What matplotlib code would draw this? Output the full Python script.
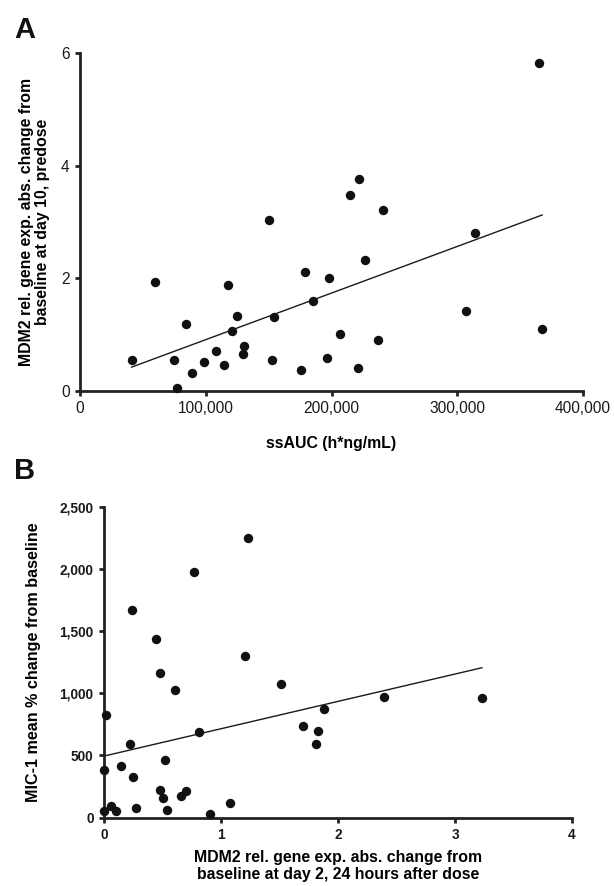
import numpy as np
import matplotlib
matplotlib.use("Agg")
import matplotlib.pyplot as plt
from matplotlib.ticker import FuncFormatter

plt.rcParams['font.family'] = ['Liberation Sans', 'DejaVu Sans']

# Panel A data: ssAUC vs MDM2 change (day 10 predose)
a_auc = [41000, 59600, 74500, 77300, 84400, 88700, 99000, 108300, 114500, 117600,
         120700, 124500, 129400, 130600, 150500, 152700, 153900, 175700, 179000, 185600,
         196500, 198000, 206400, 214400, 221300, 222200, 226900, 236800, 240900, 307000,
         314400, 365000, 367500]
a_mdm2 = [0.54, 1.94, 0.55, 0.05, 1.18, 0.31, 0.51, 0.70, 0.46, 1.875,
          1.07, 1.32, 0.65, 0.79, 3.04, 0.54, 1.31, 0.375, 2.11, 1.59,
          0.59, 2.01, 1.00, 3.475, 0.41, 3.76, 2.32, 0.90, 3.21, 1.41,
          2.80, 5.83, 1.09]

# Panel B data: MDM2 change (day 2) vs MIC-1 % change
b_mdm2 = [1.232, 0.770, 0.241, 0.442, 1.201, 0.482, 1.509, 0.606, 2.390, 3.230,
          0.020, 1.881, 1.700, 1.831, 0.813, 1.811, 0.224, 0.522, 0.144, 0.003,
          0.251, 0.479, 0.703, 0.659, 0.502, 1.074, 0.064, 0.274, 0.003, 0.104,
          0.535, 0.910]
b_mic1 = [2249, 1975, 1670, 1434, 1302, 1166, 1072, 1026, 970, 959,
          825, 871, 732, 697, 691, 595, 590, 466, 418, 383,
          327, 220, 212, 172, 158, 115, 94, 80, 54, 51,
          59, 29]

a_xticks = [0, 100000, 200000, 300000, 400000]
a_yticks = [0, 2, 4, 6]
b_xticks = [0, 1, 2, 3, 4]
b_yticks = [0, 500, 1000, 1500, 2000, 2500]

W, H = 614, 886
fig = plt.figure(figsize=(W / 100, H / 100), dpi=100)

def ax_rect(l, r, b, t):
    return [l / W, 1 - b / H, (r - l) / W, (b - t) / H]

dot_col = '#111111'
ax_col = '#222222'

def style(ax, bold):
    for s in ['top', 'right']:
        ax.spines[s].set_visible(False)
    for s in ['left', 'bottom']:
        ax.spines[s].set_linewidth(2.0)
        ax.spines[s].set_color(ax_col)
    ax.tick_params(direction='out', length=3.5, width=2.0, color=ax_col,
                   labelcolor='#1a1a1a', pad=4)
    for lab in ax.get_xticklabels() + ax.get_yticklabels():
        lab.set_fontweight('bold' if bold else 'normal')

# ---------------- Panel A ----------------
aL, aR, aB, aT = 80, 583, 390.7, 53.3
axA = fig.add_axes(ax_rect(aL, aR, aB, aT))
axA.scatter(a_auc, a_mdm2, s=46, color=dot_col, zorder=3, clip_on=False, linewidths=0)
xa = np.array(a_auc, float); ya = np.array(a_mdm2, float)
ka, ba = np.polyfit(xa, ya, 1)
xl = np.array([xa.min(), xa.max()])
axA.plot(xl, ka * xl + ba, color='#1a1a1a', lw=1.0, zorder=2)
axA.set_xlim(0, 400000)
axA.set_ylim(0, 6)
axA.set_xticks(a_xticks)
axA.set_yticks(a_yticks)
axA.xaxis.set_major_formatter(FuncFormatter(lambda v, p: f"{int(v):,}"))
axA.tick_params(labelsize=11.2)
style(axA, False)
axA.set_xlabel('ssAUC (h*ng/mL)', fontsize=11.4, fontweight='bold')
axA.xaxis.set_label_coords(0.5, -(436 - aB) / (aB - aT))
axA.set_ylabel('MDM2 rel. gene exp. abs. change from\nbaseline at day 10, predose',
               fontsize=11.4, fontweight='bold', linespacing=1.05)
axA.yaxis.set_label_coords(-(aL - 50) / (aR - aL), 0.5)
fig.text(14 / W, 1 - 38 / H, 'A', fontsize=21, fontweight='bold', color='#111111')

# ---------------- Panel B ----------------
bL, bR, bB, bT = 104, 572, 817.5, 506.7
axB = fig.add_axes(ax_rect(bL, bR, bB, bT))
axB.scatter(b_mdm2, b_mic1, s=46, color=dot_col, zorder=3, clip_on=False, linewidths=0)
xb = np.array(b_mdm2, float); yb = np.array(b_mic1, float)
kb, bb = np.polyfit(xb, yb, 1)
xl = np.array([xb.min(), xb.max()])
axB.plot(xl, kb * xl + bb, color='#1a1a1a', lw=1.0, zorder=2)
axB.set_xlim(0, 4)
axB.set_ylim(0, 2500)
axB.set_xticks(b_xticks)
axB.set_yticks(b_yticks)
axB.yaxis.set_major_formatter(FuncFormatter(lambda v, p: f"{int(v):,}"))
axB.tick_params(labelsize=9.8)
style(axB, True)
axB.set_xlabel('MDM2 rel. gene exp. abs. change from\nbaseline at day 2, 24 hours after dose',
               fontsize=11.4, fontweight='bold', linespacing=1.2)
axB.xaxis.set_label_coords((338 - bL) / (bR - bL), -(850 - bB) / (bB - bT))
axB.set_ylabel('MIC-1 mean % change from baseline', fontsize=11.6, fontweight='bold')
axB.yaxis.set_label_coords(-(bL - 41) / (bR - bL), 0.5)
fig.text(14 / W, 1 - 479 / H, 'B', fontsize=21, fontweight='bold', color='#111111')

fig.savefig('out.png', dpi=100)
